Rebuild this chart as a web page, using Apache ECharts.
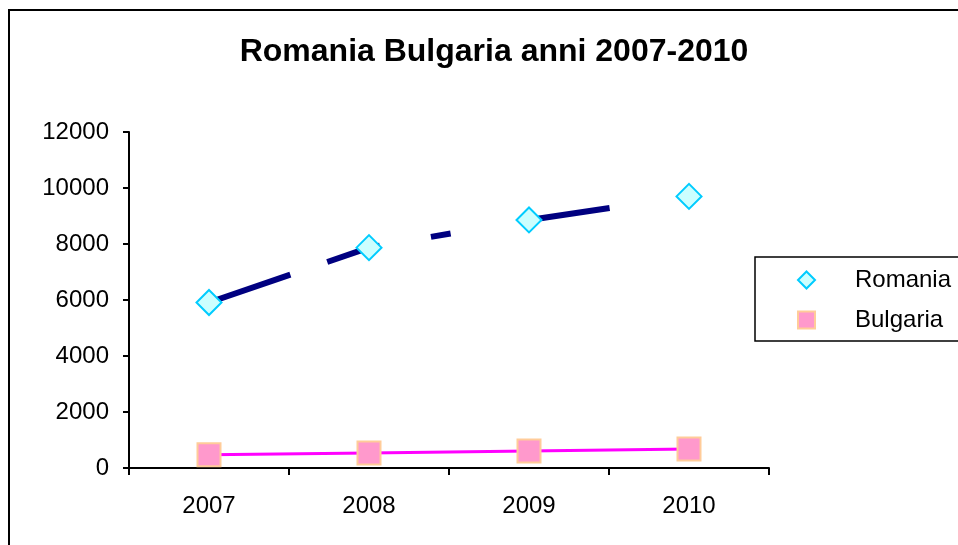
<!DOCTYPE html>
<html>
<head>
<meta charset="utf-8">
<script src="https://cdn.jsdelivr.net/npm/echarts@6/dist/echarts.min.js"></script>
<style>
  html, body { margin: 0; padding: 0; background: #fff; }
  #main { width: 958px; height: 545px; }
</style>
</head>
<body>
<div id="main"></div>
<script>
// data
var years = ['2007', '2008', '2009', '2010'];
var romania = [5910, 7870, 8860, 9700];
var bulgaria = [470, 540, 610, 680];
var yTicks = [0, 2000, 4000, 6000, 8000, 10000, 12000];

var chartDom = document.getElementById('main');
var myChart = echarts.init(chartDom);
var option;

var font = 'Liberation Sans, Arial, sans-serif';

option = {
  animation: false,
  backgroundColor: '#fff',
  title: {
    text: 'Romania Bulgaria anni 2007-2010',
    left: 489,
    textAlign: 'center',
    top: 31,
    textStyle: { fontFamily: font, fontSize: 32, fontWeight: 'bold', color: '#000' }
  },
  graphic: [
    {
      type: 'rect',
      shape: { x: 9, y: 10, width: 1000, height: 600 },
      style: { fill: 'none', stroke: '#000', lineWidth: 2 },
      z: 100
    }
  ],
  legend: {
    orient: 'vertical',
    left: 755,
    top: 257,
    padding: [11, 40, 9, 42],
    itemGap: 16,
    itemWidth: 17,
    itemHeight: 17,
    borderColor: '#000',
    borderWidth: 1.5,
    textStyle: { fontFamily: font, fontSize: 24, color: '#000', padding: [0, 0, 0, 35] },
    data: [
      { name: 'Romania', icon: 'diamond',
        itemStyle: { color: '#CCFFFF', borderColor: '#00CCFF', borderWidth: 2 } },
      { name: 'Bulgaria', icon: 'rect',
        itemStyle: { color: '#FF99CC', borderColor: '#FFCC99', borderWidth: 2 } }
    ]
  },
  grid: { left: 129, right: 189, top: 132, bottom: 77 },
  xAxis: {
    type: 'category',
    data: years,
    boundaryGap: true,
    axisLine: { lineStyle: { color: '#000', width: 2 } },
    axisTick: { show: true, length: 7, alignWithLabel: false, lineStyle: { color: '#000', width: 2 } },
    axisLabel: { fontFamily: font, fontSize: 24, color: '#000', margin: 26 },
    splitLine: { show: false }
  },
  yAxis: {
    type: 'value',
    min: yTicks[0],
    max: yTicks[yTicks.length - 1],
    interval: 2000,
    axisLine: { show: true, lineStyle: { color: '#000', width: 2 } },
    axisTick: { show: true, length: 6, lineStyle: { color: '#000', width: 2 } },
    axisLabel: {
      fontFamily: font, fontSize: 24, color: '#000', margin: 20,
      formatter: function (v) { return String(v); }
    },
    splitLine: { show: false }
  },
  series: [
    {
      name: 'Romania',
      type: 'line',
      data: romania,
      symbol: 'diamond',
      symbolSize: 25,
      lineStyle: { color: '#000080', width: 6, type: [86, 39, 55, 52, 20, 83, 78, 300] },
      itemStyle: { color: '#CCFFFF', borderColor: '#00CCFF', borderWidth: 2 },
      z: 3
    },
    {
      name: 'Bulgaria',
      type: 'line',
      data: bulgaria,
      symbol: 'rect',
      symbolSize: 23,
      lineStyle: { color: '#FF00FF', width: 3 },
      itemStyle: { color: '#FF99CC', borderColor: '#FFCC99', borderWidth: 2 },
      z: 2
    }
  ]
};

option && myChart.setOption(option);
</script>
</body>
</html>
